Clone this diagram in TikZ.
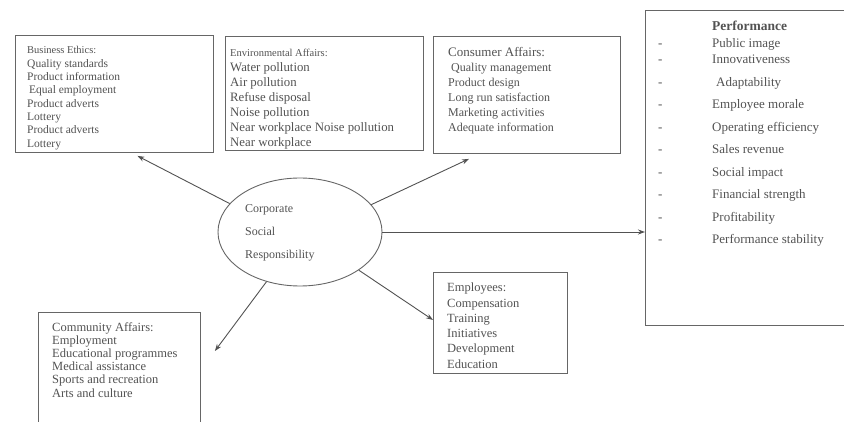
\documentclass[tikz,border=0pt]{standalone}
\usepackage{fontspec}
\setmainfont{Liberation Serif}
\usetikzlibrary{arrows.meta,shapes.geometric,calc}
\begin{document}
\begin{tikzpicture}[x=1pt,y=-1pt,
  box/.style={draw=black!60, line width=0.9pt, inner sep=0pt, anchor=north west},
  txt/.style={inner sep=0pt, anchor=base west, text=black!68},
  arr/.style={draw=black!68, line width=0.9pt, -{Stealth[length=7pt,width=5pt]}},
  fa/.style={font=\fontsize{11.5}{13}\selectfont},
  fb/.style={font=\fontsize{12}{14}\selectfont},
  fe/.style={font=\fontsize{12.8}{14}\selectfont},
  fc/.style={font=\fontsize{12.5}{14}\selectfont},
  fp/.style={font=\fontsize{13}{15}\selectfont},
]
\useasboundingbox (0,0) rectangle (844,422);

% boxes
\node[box, minimum width=198pt, minimum height=117pt] (be) at (15,35) {};
\node[box, minimum width=198pt, minimum height=114pt] (env) at (225,36) {};
\node[box, minimum width=187pt, minimum height=117pt] (con) at (433,36) {};
\node[box, minimum width=215pt, minimum height=315pt] (perf) at (645,10) {};
\node[box, minimum width=162pt, minimum height=125pt] (com) at (38,312) {};
\node[box, minimum width=134pt, minimum height=101pt] (emp) at (433,272) {};
\node[draw=black!60, line width=0.9pt, ellipse, minimum width=164pt, minimum height=108pt, inner sep=0pt] (csr) at (300,232) {};

% Business Ethics
\node[txt, font=\fontsize{10.5}{13}\selectfont] (be0) at (27, 54) {Business Ethics:};
\foreach \t [count=\i] in {Quality standards, Product information, \hspace{2pt}Equal employment, Product adverts, Lottery, Product adverts, Lottery}
  \node[txt, fa] (be\i) at (27, 54+13.3*\i) {\t};

% Environmental Affairs
\node[txt, font=\fontsize{10.5}{13}\selectfont] (env0) at (230, 57) {Environmental Affairs:};
\foreach \t [count=\i] in {Water pollution, Air pollution, Refuse disposal, Noise pollution, Near workplace Noise pollution, Near workplace}
  \node[txt, fe] (env\i) at (230, 57+15*\i) {\t};

% Consumer Affairs
\node[txt, font=\fontsize{13}{14}\selectfont] (con0) at (448, 57) {Consumer Affairs:};
\foreach \t [count=\i] in {\hspace{3pt}Quality management, Product design, Long run satisfaction, Marketing activities, Adequate information}
  \node[txt, fb] (con\i) at (448, 57+15*\i) {\t};

% Performance
\node[txt, font=\fontsize{13.5}{15}\selectfont\bfseries] (perfh) at (712, 30.5) {Performance};
\foreach \t/\y [count=\i] in {Public image/43, Innovativeness/59, \hspace{4pt}Adaptability/82, Employee morale/104, Operating efficiency/127, Sales revenue/149, Social impact/172, Financial strength/194, Profitability/217, Performance stability/239}{
  \node[txt, fp] (perf\i) at (712, \y+4.5) {\t};
  \node[txt, fp] (dash\i) at (658, \y+4.5) {-};
}

% Ellipse text
\node[txt, fb] (csr1) at (245, 213) {Corporate};
\node[txt, fb] (csr2) at (245, 236) {Social};
\node[txt, fb] (csr3) at (245, 259) {Responsibility};

% Community Affairs
\foreach \t [count=\i] in {Community Affairs:, Employment, Educational programmes, Medical assistance, Sports and recreation, Arts and culture}
  \node[txt, fc] (com\i) at (52, 331+13.2*\i-13.2) {\t};

% Employees
\foreach \t [count=\i] in {Employees:, Compensation, Training, Initiatives, Development, Education}
  \node[txt, fc] (emp\i) at (447, 292+15.2*\i-15.2) {\t};

% connectors
\draw[arr] (csr.158) -- ([xshift=23pt,yshift=-3pt]be.south);
\draw[arr] (csr.21) -- ([xshift=-58pt,yshift=-5pt]con.south);
\draw[arr] (csr.east) -- (csr.east -| perf.west);
\draw[arr] (csr.-33) -- ([yshift=3pt]emp.west);
\draw[arr] (csr.-124) -- ([xshift=14pt,yshift=-39pt]com.north east);
\end{tikzpicture}
\end{document}
